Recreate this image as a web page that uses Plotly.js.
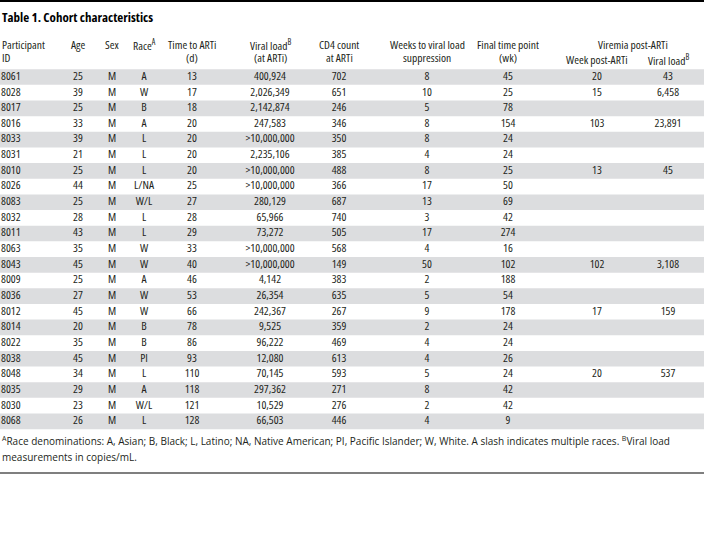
<!DOCTYPE html>
<html>
<head>
<meta charset="utf-8">
<script src="https://cdn.plot.ly/plotly-3.0.1.min.js"></script>
<style>
html,body{margin:0;padding:0;background:#fff;}
#chart{width:704px;height:533px;}
text[style*="Narrow"], tspan[style*="Narrow"]{font-stretch:75%;}
</style>
</head>
<body>
<div id="chart"></div>
<script>
// ---- data ----
const participantIds = ['8061','8028','8017','8016','8033','8031','8010','8026','8083','8032','8011','8063','8043','8009','8036','8012','8014','8022','8038','8048','8035','8030','8068'];
const ages = [25,39,25,33,39,21,25,44,25,28,43,35,45,25,27,45,20,35,45,34,29,23,26];
const sexes = ['M','M','M','M','M','M','M','M','M','M','M','M','M','M','M','M','M','M','M','M','M','M','M'];
const races = ['A','W','B','A','L','L','L','L/NA','W/L','L','L','W','W','A','W','W','B','B','PI','L','A','W/L','L'];
const timeToARTi = [13,17,18,20,20,20,20,25,27,28,29,33,40,46,53,66,78,86,93,110,118,121,128];
const viralLoadAtARTi = ['400,924','2,026,349','2,142,874','247,583','>10,000,000','2,235,106','>10,000,000','>10,000,000','280,129','65,966','73,272','>10,000,000','>10,000,000','4,142','26,354','242,367','9,525','96,222','12,080','70,145','297,362','10,529','66,503'];
const cd4AtARTi = [702,651,246,346,350,385,488,366,687,740,505,568,149,383,635,267,359,469,613,593,271,276,446];
const weeksToSuppression = [8,10,5,8,8,4,8,17,13,3,17,4,50,2,5,9,2,4,4,5,8,2,4];
const finalTimePoint = [45,25,78,154,24,24,25,50,69,42,274,16,102,188,54,178,24,24,26,24,42,42,9];
const viremiaWeek = ['20','15','','103','','','13','','','','','','102','','','17','','','','20','','',''];
const viremiaLoad = ['43','6,458','','23,891','','','45','','','','','','3,108','','','159','','','','537','','',''];

const headerLine1 = ['Participant','Age','Sex','Race<sup>A</sup>','Time to ARTi','Viral load<sup>B</sup>','CD4 count','Weeks to viral load','Final time point'];
const headerLine2 = ['ID','','','','(d)','(at ARTi)','at ARTi','suppression','(wk)'];
const groupHeader = 'Viremia post-ARTi';
const subHeaders = ['Week post-ARTi','Viral load<sup>B</sup>'];
const tableTitle = 'Table 1. Cohort characteristics';
const footnote1 = '<sup>A</sup>Race denominations: A, Asian; B, Black; L, Latino; NA, Native American; PI, Pacific Islander; W, White. A slash indicates multiple races. <sup>B</sup>Viral load';
const footnote2 = 'measurements in copies/mL.';

// ---- layout settings ----
const W = 704, H = 533;
const rowTop = 77, pitch = 15.65;
const bodyFont = 'Open Sans, Liberation Sans Narrow, sans-serif';
const noteFont = 'Open Sans, sans-serif';
const textColor = '#231f20';
const colX = [1, 78, 112, 144, 192, 270, 339, 427, 508, 597, 668];
const columns = [participantIds, ages, sexes, races, timeToARTi, viralLoadAtARTi, cd4AtARTi, weeksToSuppression, finalTimePoint, viremiaWeek, viremiaLoad];

const traces = columns.map((vals, c) => {
  const idx = vals.map((v, i) => i).filter(i => String(vals[i]) !== '');
  return {
    type: 'scatter', mode: 'text',
    x: idx.map(() => colX[c]),
    y: idx,
    text: idx.map(i => String(vals[i])),
    textposition: c === 0 ? 'middle right' : 'middle center',
    textfont: {family: bodyFont, size: 11.5, color: textColor},
    marker: {size: 1},
    hoverinfo: 'skip', showlegend: false, cliponaxis: false
  };
});

const shapes = [];
participantIds.forEach((_, i) => {
  if (i % 2 === 0) shapes.push({type: 'rect', xref: 'paper', yref: 'y', x0: 0, x1: 1, y0: i - 0.5, y1: i + 0.5, fillcolor: '#dcdddf', line: {width: 0}, layer: 'below'});
});
const py = px => 1 - px / H;
shapes.push({type: 'line', xref: 'paper', yref: 'paper', x0: 0, x1: 1, y0: py(1), y1: py(1), line: {color: '#000', width: 2}});
shapes.push({type: 'line', xref: 'paper', yref: 'paper', x0: 0, x1: 1, y0: py(473), y1: py(473), line: {color: '#555', width: 1.5}});

const ann = [];
const hdr = (text, x, y, anchor) => ann.push({text, x, y: py(y), xref: 'x', yref: 'paper', xanchor: anchor || 'center', yanchor: 'middle', showarrow: false, font: {family: bodyFont, size: 11.5, color: textColor}});
headerLine1.forEach((t, c) => hdr(t, c === 0 ? 0 : colX[c], 45, c === 0 ? 'left' : 'center'));
headerLine2.forEach((t, c) => { if (t) hdr(t, c === 0 ? 0 : colX[c], 58, c === 0 ? 'left' : 'center'); });
hdr(groupHeader, (colX[9] + colX[10]) / 2, 45);
subHeaders.forEach((t, k) => hdr(t, colX[9 + k], 60));
ann.push({text: '<b>' + tableTitle + '</b>', x: 0, y: py(17), xref: 'x', yref: 'paper', xanchor: 'left', yanchor: 'middle', showarrow: false, font: {family: bodyFont, size: 13, color: '#000'}});
ann.push({text: footnote1, x: 0, y: py(441), xref: 'x', yref: 'paper', xanchor: 'left', yanchor: 'middle', showarrow: false, font: {family: noteFont, size: 10, color: textColor}});
ann.push({text: footnote2, x: 0, y: py(457), xref: 'x', yref: 'paper', xanchor: 'left', yanchor: 'middle', showarrow: false, font: {family: noteFont, size: 10, color: textColor}});

const layout = {
  width: W, height: H,
  margin: {l: 0, r: 0, t: 0, b: 0, pad: 0},
  paper_bgcolor: '#fff', plot_bgcolor: '#fff',
  showlegend: false,
  xaxis: {range: [0, W], visible: false, fixedrange: true},
  yaxis: {range: [(H - rowTop) / pitch, -rowTop / pitch], visible: false, fixedrange: true},
  shapes, annotations: ann
};
Plotly.newPlot('chart', traces, layout, {staticPlot: true, displayModeBar: false});
</script>
</body>
</html>
